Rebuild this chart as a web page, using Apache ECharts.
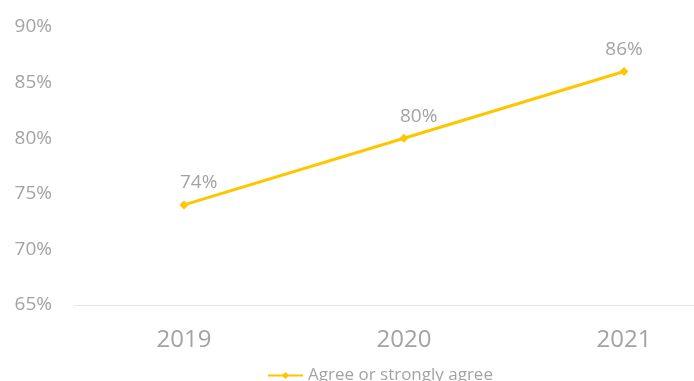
<!DOCTYPE html>
<html>
<head>
<meta charset="utf-8">
<style>
  html, body { margin: 0; padding: 0; background: #fff; }
  #chart { width: 694px; height: 381px; }
</style>
<script src="https://cdn.jsdelivr.net/npm/echarts@6/dist/echarts.min.js"></script>
</head>
<body>
<div id="chart"></div>
<script>
// Survey result by year
const years = ['2019', '2020', '2021'];
const agreeShare = [74, 80, 86];
const seriesName = 'Agree or strongly agree';
const yTicks = { min: 65, max: 90, step: 5 };

const FONT = '"Open Sans", "Noto Sans", sans-serif';
const GREY = '#a3a3a3';
const GOLD = '#FFC600';

const chart = echarts.init(document.getElementById('chart'), null, { renderer: 'canvas' });

const option = {
  animation: false,
  textStyle: { fontFamily: FONT },
  // the plot runs past the right edge so the last category sits near it
  grid: { left: 74, top: 27, width: 660, height: 278, outerBoundsMode: 'none', containLabel: false },
  legend: {
    bottom: -8,
    left: 262,
    itemWidth: 35,
    itemHeight: 9,
    itemGap: 2,
    textStyle: { color: GREY, fontSize: 17, fontFamily: FONT }
  },
  xAxis: {
    type: 'category',
    data: years,
    boundaryGap: true,
    axisLine: { show: true, lineStyle: { color: '#e6e6e6', width: 1 } },
    axisTick: { show: false },
    axisLabel: { color: GREY, fontSize: 24, margin: 23, fontFamily: FONT },
    splitLine: { show: false }
  },
  yAxis: {
    type: 'value',
    min: yTicks.min,
    max: yTicks.max,
    interval: yTicks.step,
    axisLine: { show: false },
    axisTick: { show: false },
    splitLine: { show: false },
    axisLabel: {
      color: GREY, fontSize: 19, margin: 22, fontFamily: FONT,
      formatter: v => v + '%'
    }
  },
  series: [{
    name: seriesName,
    type: 'line',
    data: agreeShare.map((v, i) => ({
      value: v,
      label: i === agreeShare.length - 1
        ? { align: 'center', offset: [0, 0] }
        : { align: 'left', offset: [-4, 0] }
    })),
    symbol: 'diamond',
    symbolSize: 9,
    lineStyle: { color: GOLD, width: 3 },
    itemStyle: { color: GOLD },
    label: {
      show: true,
      position: 'top',
      distance: 8,
      color: GREY,
      fontSize: 19,
      fontFamily: FONT,
      formatter: p => p.value + '%'
    }
  }]
};

chart.setOption(option);
</script>
</body>
</html>
